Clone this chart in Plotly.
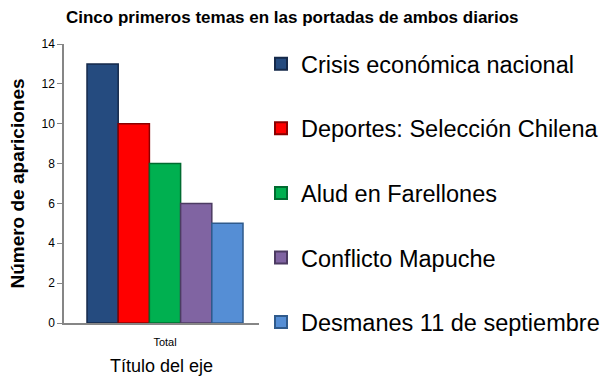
import plotly.graph_objects as go

categories = ["Total"]
series_names = ["Crisis económica nacional", "Deportes: Selección Chilena",
                "Alud en Farellones", "Conflicto Mapuche", "Desmanes 11 de septiembre"]
series_values = [13, 10, 8, 6, 5]
colors = ["#254B7F", "#FF0000", "#00B050", "#8064A2", "#558ED5"]
edge_colors = ["#15294A", "#8A0000", "#006B30", "#4C3B62", "#2F5A8C"]

fig = go.Figure()
for i, (name, val) in enumerate(zip(series_names, series_values)):
    fig.add_trace(go.Bar(
        x=categories, y=[val], name=name,
        marker=dict(color=colors[i], line=dict(color=edge_colors[i], width=1.5)),
        legendgroup=f"g{i}",
    ))

fig.update_layout(
    width=614, height=383,
    margin=dict(l=64, r=355, t=44, b=60, autoexpand=False),
    paper_bgcolor="white", plot_bgcolor="white",
    barmode="group", bargap=0.2, bargroupgap=0,
    font=dict(family="Liberation Sans, Arial", color="black"),
    title=dict(text="<b>Cinco primeros temas en las portadas de ambos diarios</b>",
               x=0.476, xanchor="center", y=0.955, yanchor="middle",
               font=dict(size=17, color="black")),
    legend=dict(x=(261 - 64) / 195, xref="paper", xanchor="left",
                y=1 - 42 / 383, yanchor="top", yref="container",
                maxheight=380,
                font=dict(size=23.5, color="black"),
                tracegroupgap=31, itemsizing="constant",
                bgcolor="rgba(0,0,0,0)"),
    showlegend=True,
)
fig.update_xaxes(
    range=[-0.518, 0.482],
    showline=True, linecolor="#868686", linewidth=1.5,
    ticks="outside", ticklen=8, tickcolor="rgba(0,0,0,0)",
    tickfont=dict(size=11),
    title=dict(text="Título del eje", font=dict(size=18), standoff=12),
    showgrid=False,
)
fig.update_yaxes(
    range=[0, 14], dtick=2,
    showline=True, linecolor="#868686", linewidth=1.5,
    ticks="outside", ticklen=5, tickcolor="#868686",
    tickfont=dict(size=12),
    title=dict(text="<b>Número de apariciones</b>", font=dict(size=19), standoff=12),
    showgrid=False, zeroline=False,
)

fig.write_html("out.html")
